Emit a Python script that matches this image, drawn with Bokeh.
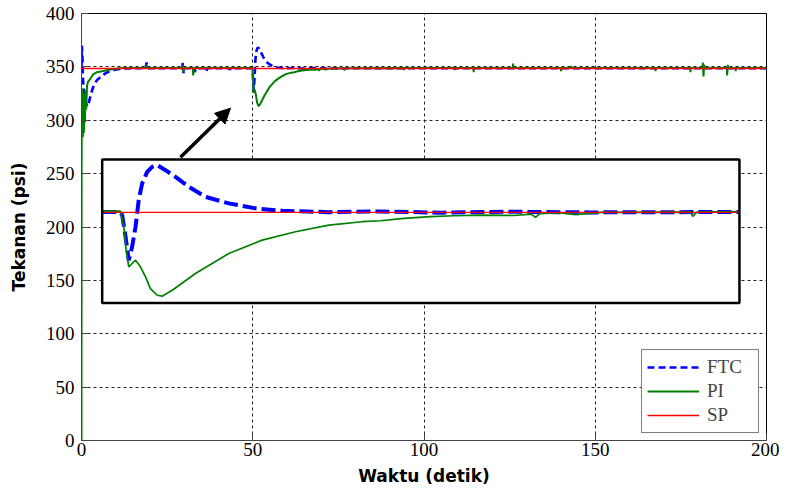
from bokeh.plotting import figure
from bokeh.models import Range1d, Arrow, NormalHead, Legend, LegendItem, FixedTicker
from bokeh.embed import file_html
from bokeh.resources import INLINE

# ---------------- data ----------------
ftc_t = [0, 0.1, 0.25, 0.4, 0.7, 1.0, 1.4, 1.9, 2.4, 2.9, 3.4, 3.9, 4.8, 5.8, 7.0, 8.3, 9.7, 11.1, 13,
         18.7, 19.0, 19.3, 29.4, 29.6, 29.8, 30.0, 33.0, 33.1, 33.3, 36.4, 36.5, 36.7, 43.2, 43.3, 43.5,
         49.0, 49.78, 49.94, 50.10, 50.25, 50.41, 50.57, 50.72, 50.88, 51.12, 51.35, 51.59, 51.98, 52.45,
         53.08, 53.86, 54.96, 56.22, 57.47, 59.65, 62.0, 65.0, 68.0, 72.0, 79.0, 100, 200]
ftc_v = [348.5, 370, 362, 340, 328, 320, 315, 313, 320, 326, 331, 335, 338.5, 341, 344, 346, 347.3, 348, 348.6,
         348.7, 354, 348.7, 348.7, 354, 344, 348.7, 348.7, 345, 348.7, 348.7, 346, 348.7, 348.7, 347, 348.7,
         348.7, 348.7, 347.4, 338.3, 328.5, 334.1, 342.5, 353.7, 360.6, 365.5, 367.6, 368.3, 366.2, 363.4,
         359.2, 355.0, 352.3, 350.2, 349.2, 348.6, 348.9, 348.4, 348.8, 348.5, 348.7, 348.7, 348.7]

pi_t = [0, 0.03, 0.1, 0.2, 0.3, 0.4, 0.55, 0.7, 0.85, 1.0, 1.2, 1.4, 1.6, 1.9, 2.4, 3.0, 3.4, 4.5, 6.4, 8.0,
        10, 12, 18.9, 19.0, 19.1, 29.5, 29.6, 29.7, 29.8, 32.5, 32.6, 32.8,
        49.0, 49.86, 50.02, 50.13, 50.25, 50.41, 50.57, 50.80, 51.04, 51.27, 51.59, 51.82, 52.30, 53.39,
        54.96, 56.53, 58.10, 59.67, 61.24, 62.1, 63.2, 64.46, 65.55, 66.81, 68.38, 69.2, 69.4, 69.6, 70.5,
        71.3, 72.5, 76.7, 76.8, 77.0, 79.0,
        94.1, 94.2, 94.3, 108.9, 109.0, 109.1, 114.4, 114.5, 114.6, 125.9, 126.0, 126.1, 139.9, 140.0, 140.1,
        142.9, 143.0, 143.1, 167.5, 167.6, 167.7, 177.7, 177.8, 177.9, 181.3, 181.4, 181.6, 181.8, 182.0,
        188.4, 188.5, 188.7, 188.8, 190.9, 191.0, 191.1, 200]
pi_v = [0, 253, 330, 292, 326, 284, 318, 288, 325, 298, 328, 310, 332, 336, 338, 341, 343, 345, 346.2, 347.4,
        348.3, 349, 349, 352, 349, 349, 351, 345, 349, 349, 342, 349,
        349, 349, 342.5, 332.7, 325.7, 327.1, 328.5, 325.7, 321.5, 316.6, 313.8, 313.4, 315.9, 322.9,
        331.3, 336.9, 340.4, 343.2, 344.6, 345.0, 346.0, 346.7, 347.1, 347.4, 347.2, 347.8, 346.4, 348.0, 348.4,
        347.6, 348.5, 348.6, 346.8, 348.6, 348.8,
        349, 347, 349, 349, 347, 349, 349, 345, 349, 349, 353, 349, 349, 346, 349,
        349, 351, 349, 349, 346, 349, 349, 345, 349, 349, 354, 341, 352, 349,
        349, 342, 352, 349, 349, 346, 349, 349]

sp_t = [0, 200]
sp_v = [348.5, 348.5]

x_ticks = [0, 50, 100, 150, 200]
y_ticks = [0, 50, 100, 150, 200, 250, 300, 350, 400]

# zoomed window shown in the inset (data units)
inset_t = (49.0, 79.0)
inset_v = (310.5, 370.7)

# ---------------- layout / style ----------------
INSET_X = (6.04, 192.1)     # inset box, in main-axis units
INSET_Y = (128.7, 263.3)
ARROW = (28.9, 265.4, 43.5, 311.3)

BLUE = "#0000ff"
GREEN = "#008000"
RED = "#ff0000"

p = figure(x_range=Range1d(0, 200), y_range=Range1d(0, 400),
           output_backend="svg", toolbar_location=None,
           frame_width=685, frame_height=427,
           min_border_left=81, min_border_top=13, min_border_right=13, min_border_bottom=40)
p.background_fill_color = "white"
p.border_fill_color = "white"
p.outline_line_color = "black"
p.outline_line_width = 1

p.xaxis.ticker = FixedTicker(ticks=x_ticks)
p.yaxis.ticker = FixedTicker(ticks=y_ticks)
for ax in (p.xaxis[0], p.yaxis[0]):
    ax.major_tick_in = 7
    ax.major_tick_out = 0
    ax.minor_tick_in = 0
    ax.minor_tick_out = 0
    ax.axis_line_color = "#444444"
    ax.major_tick_line_color = "#444444"
    ax.major_label_text_font = "Liberation Serif"
    ax.major_label_text_font_size = "19px"
    ax.major_label_text_color = "black"
    ax.axis_label_text_font = "DejaVu Sans"
    ax.axis_label_text_font_style = "bold"
    ax.axis_label_text_font_size = "17px"
    ax.axis_label_text_color = "black"

p.xaxis.axis_label = "Waktu (detik)"
p.yaxis.axis_label = "Tekanan (psi)"
p.xaxis.major_label_standoff = 2
p.yaxis.major_label_standoff = 7
p.xaxis.axis_label_standoff = 7
p.yaxis.axis_label_standoff = 14

p.grid.grid_line_color = "#222222"
p.grid.grid_line_dash = "3 3"
p.grid.grid_line_width = 1

# main curves
r_ftc = p.line(ftc_t, ftc_v, line_color=BLUE, line_width=2.6, line_dash="7 4")
r_pi = p.line(pi_t, pi_v, line_color=GREEN, line_width=2)
r_sp = p.line(sp_t, sp_v, line_color=RED, line_width=1.3)

# inset background
p.quad(left=[INSET_X[0]], right=[INSET_X[1]], bottom=[INSET_Y[0]], top=[INSET_Y[1]],
       fill_color="white", line_color=None)

# inset curves (same data, zoomed window)
def window(ts, vs):
    pts = [(t, v) for t, v in zip(ts, vs) if inset_t[0] <= t <= inset_t[1]]
    return [a for a, _ in pts], [b for _, b in pts]

sub = p.subplot(x_source=Range1d(*inset_t), y_source=Range1d(*inset_v),
                x_target=Range1d(*INSET_X), y_target=Range1d(*INSET_Y))
it, iv = window(ftc_t, ftc_v)
sub.line(it, iv, line_color=BLUE, line_width=4, line_dash="14 5")
it, iv = window(pi_t, pi_v)
sub.line(it, iv, line_color=GREEN, line_width=1.7)
sub.line(list(inset_t), [sp_v[0], sp_v[0]], line_color=RED, line_width=1.2)

# inset border
p.quad(left=[INSET_X[0]], right=[INSET_X[1]], bottom=[INSET_Y[0]], top=[INSET_Y[1]],
       fill_color=None, line_color="black", line_width=2.5)

# arrow
p.add_layout(Arrow(end=NormalHead(size=15, fill_color="black", line_color="black"),
                   x_start=ARROW[0], y_start=ARROW[1], x_end=ARROW[2], y_end=ARROW[3],
                   line_width=3.5, line_color="black"))

legend = Legend(items=[LegendItem(label="FTC", renderers=[r_ftc]),
                       LegendItem(label="PI", renderers=[r_pi]),
                       LegendItem(label="SP", renderers=[r_sp])],
                location="bottom_right", margin=7, padding=5, spacing=0,
                glyph_width=52, glyph_height=24, label_height=24, label_width=46, label_standoff=8,
                label_text_font="Liberation Serif", label_text_font_size="19px",
                border_line_color="black", border_line_width=1.5,
                background_fill_color="white", background_fill_alpha=1)
p.add_layout(legend)

open("out.html", "w").write(file_html(p, INLINE))
